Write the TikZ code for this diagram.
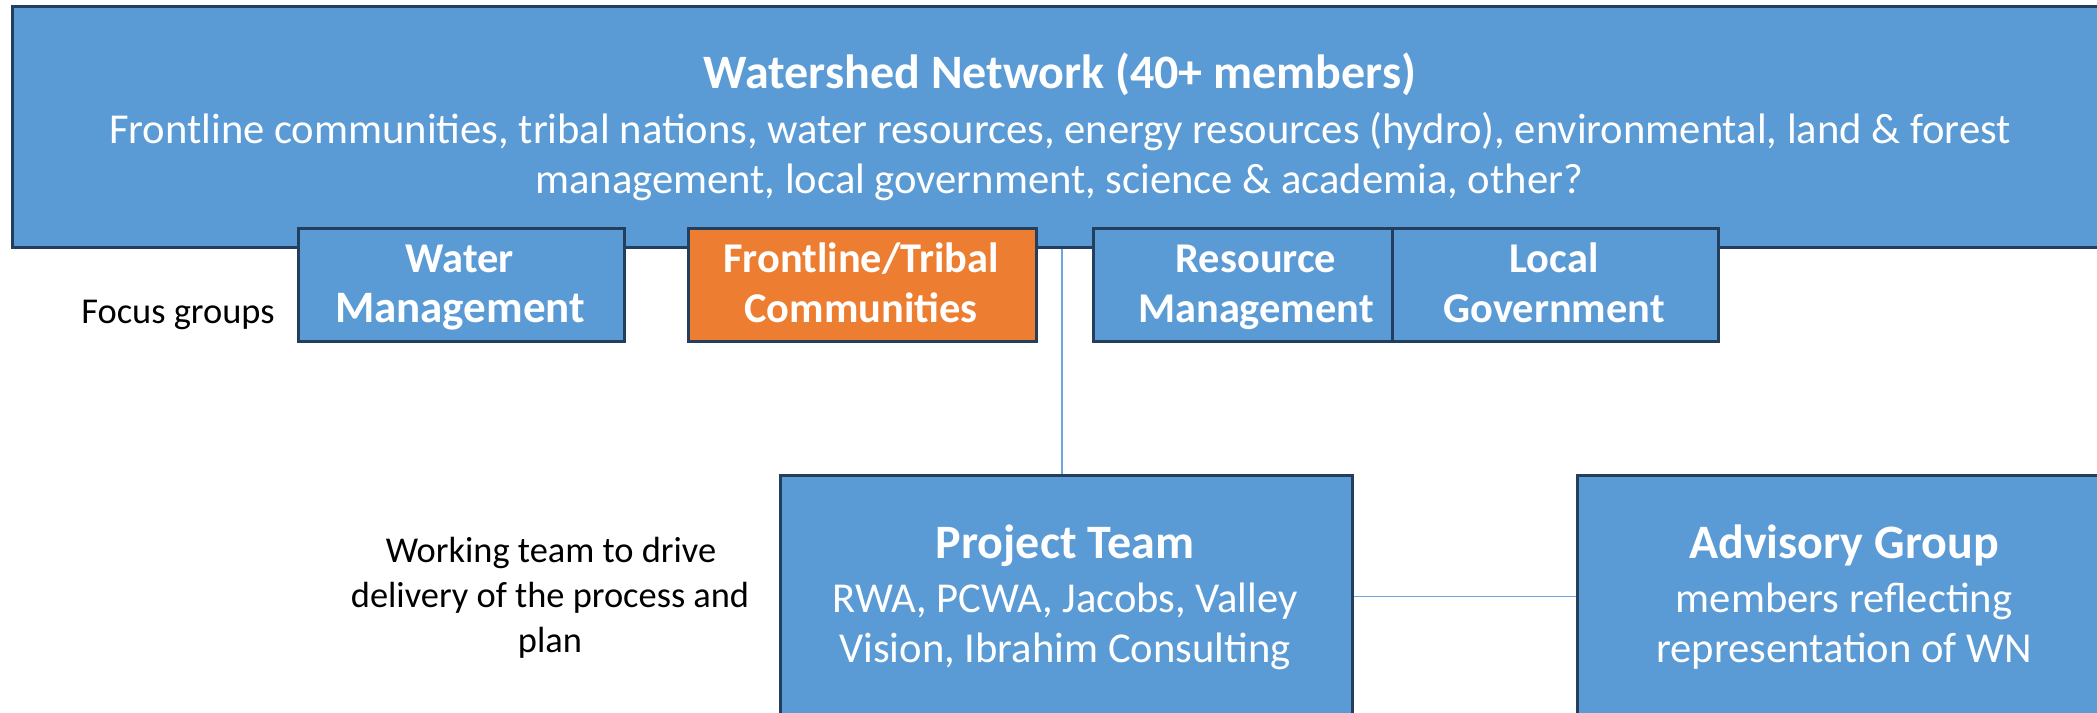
\documentclass[tikz,border=0pt]{standalone}
\usepackage{fontspec}
\setmainfont{Carlito}
\definecolor{wblue}{HTML}{5B9BD5}
\definecolor{wedge}{HTML}{243F5E}
\definecolor{worange}{HTML}{ED7D31}
\definecolor{wline}{HTML}{6FA5DA}
\begin{document}
\begin{tikzpicture}[x=0.5pt,y=-0.5pt,
  box/.style={draw=wedge, line width=1.5pt, fill=wblue, inner sep=0pt, anchor=north west},
  obox/.style={box, fill=worange},
  wt/.style={text=white, inner sep=0pt, anchor=base, font=\fontsize{21.3}{26}\selectfont},
  wb/.style={wt, font=\bfseries\fontsize{21.2}{26}\selectfont},
  wtitle/.style={wt, font=\bfseries\fontsize{24}{29}\selectfont},
  side/.style={text=black, inner sep=0pt, anchor=base, font=\fontsize{18.2}{22.5}\selectfont},
  conn/.style={draw=wline, line width=0.75pt}]
\clip (0,0) rectangle (2097,712);
\fill[white] (0,0) rectangle (2097,712);
% top box
\node[box, minimum width=1048pt, minimum height=120.5pt] (wn) at (11,5) {};
\node[wtitle] (wnt) at (1060,88) {Watershed Network (40+ members)};
\node[wt] (wn1) at (1060,143) {Frontline communities, tribal nations, water resources, energy resources (hydro), environmental, land \& forest};
\node[wt] (wn2) at (1059,193) {management, local government, science \& academia, other?};
% focus groups
\node[box, minimum width=163pt, minimum height=56.5pt] (wm) at (297,227) {};
\node[obox, minimum width=174pt, minimum height=56.5pt] (ft) at (687,227) {};
\node[box, minimum width=163.5pt, minimum height=56.5pt] (rm) at (1092,227) {};
\node[box, minimum width=163pt, minimum height=56.5pt] (lg) at (1391,227) {};
\node[wb] (wm1) at (460,272) {Water};
\node[wb, font=\bfseries\fontsize{22.5}{26}\selectfont] (wm2) at (460,322) {Management};
\node[wb] (ft1) at (861,272) {Frontline/Tribal};
\node[wb] (ft2) at (861,322) {Communities};
\node[wb] (rm1) at (1256,272) {Resource};
\node[wb] (rm2) at (1256,322) {Management};
\node[wb] (lg1) at (1554,272) {Local};
\node[wb] (lg2) at (1554,322) {Government};
\node[side] (fg) at (178,323) {Focus groups};
% lower boxes
\node[box, minimum width=286pt, minimum height=121pt] (pt) at (779,474) {};
\node[box, minimum width=268pt, minimum height=121pt] (ag) at (1576,474) {};
\draw[conn] (pt.north -| 1062,0) -- (wn.south -| 1062,0);
\draw[conn] (pt.east) -- (ag.west);
\node[wtitle] (pt1) at (1065,558) {Project Team};
\node[wt] (pt2) at (1065,612) {RWA, PCWA, Jacobs, Valley};
\node[wt] (pt3) at (1065,662) {Vision, Ibrahim Consulting};
\node[wtitle] (ag1) at (1844,558) {Advisory Group};
\node[wt] (ag2) at (1844,612) {members reflecting};
\node[wt] (ag3) at (1844,662) {representation of WN};
\node[side] (wk1) at (551,562) {Working team to drive};
\node[side] (wk2) at (550,607) {delivery of the process and};
\node[side] (wk3) at (550,652) {plan};
\end{tikzpicture}
\end{document}
